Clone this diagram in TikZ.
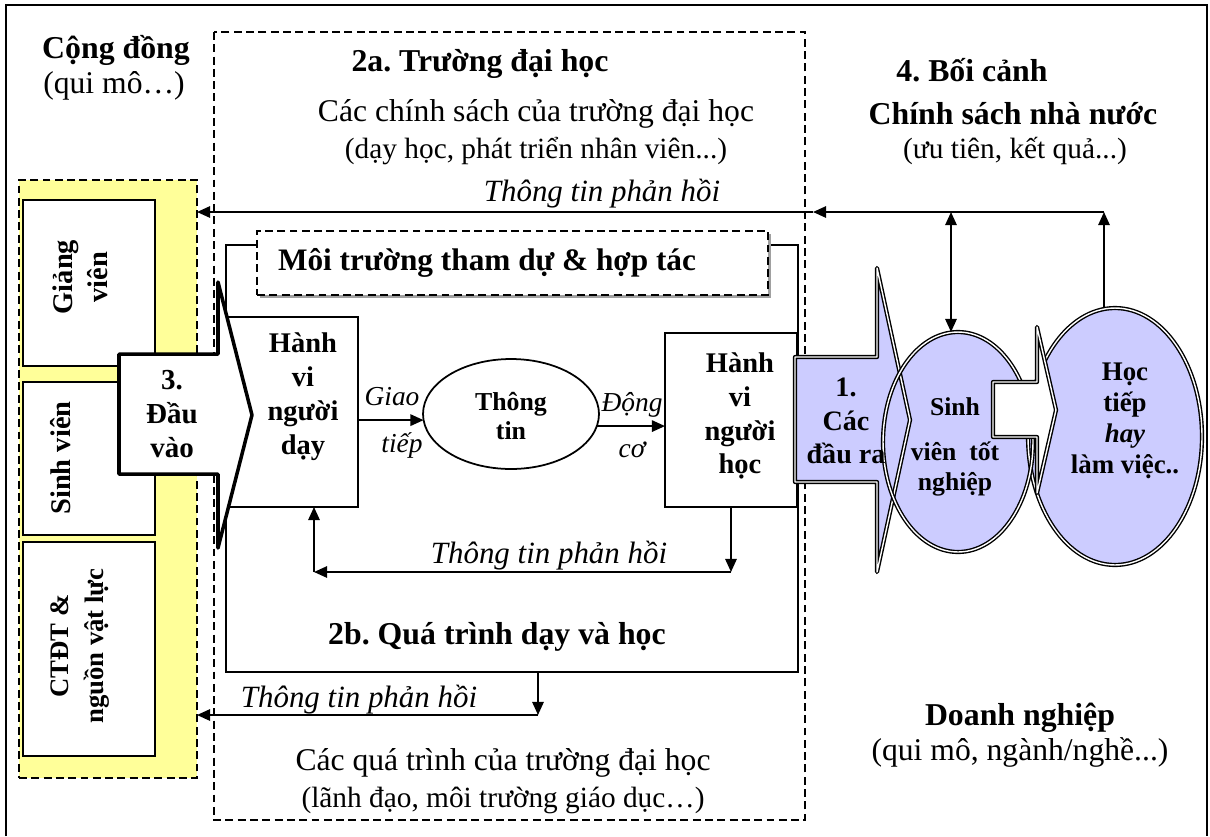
\documentclass[tikz,border=0pt]{standalone}
\usepackage{fontspec}
\setmainfont{Liberation Serif}
\usetikzlibrary{arrows.meta,shapes.geometric,calc}
\definecolor{padyellow}{HTML}{FFFF99}
\definecolor{outlav}{HTML}{CCCCFF}
\definecolor{shadowgrey}{HTML}{A0A0A0}
\frenchspacing
\begin{document}
\begin{tikzpicture}[x=0.02cm,y=-0.02cm,
  every node/.style={inner sep=0pt,outer sep=0pt},
  frameline/.style={line width=1.2pt},
  dashframe/.style={line width=0.8pt,dash pattern=on 4.5pt off 2.5pt},
  plainbox/.style={draw,line width=1pt,fill=white,rectangle},
  lavline/.style={draw=black,line width=0.8pt,double=white,double distance=0.8pt,line join=round},
  inarrowshape/.style={draw,fill=white,line width=2pt,line join=round},
  flow/.style={line width=1.1pt,-{Triangle[length=7.5pt,width=6.5pt]}},
  flowboth/.style={line width=1.1pt,{Triangle[length=7.5pt,width=6.5pt]}-{Triangle[length=7.5pt,width=6.5pt]}},
  titlef/.style={font=\fontsize{18.1}{21}\selectfont\bfseries},
  regf/.style={font=\fontsize{18}{21}\selectfont},
  parf/.style={font=\fontsize{16.7}{20}\selectfont},
  fbf/.style={font=\fontsize{17.6}{21}\selectfont\itshape},
  smallit/.style={font=\fontsize{15.6}{18}\selectfont\itshape},
  boxtext/.style={font=\fontsize{16.2}{19.3}\selectfont\bfseries,align=center},
  sidetext/.style={font=\fontsize{16.2}{19.8}\selectfont\bfseries,align=center},
  ovaltext/.style={font=\fontsize{14.7}{16}\selectfont\bfseries,align=center}]
\useasboundingbox (0,0) rectangle (1210,836);

% outer frame
\draw[frameline] (6,836) -- (6,5) -- (1207,5) -- (1207,836);

% university boundary (2a)
\draw[dashframe] (214,32) rectangle (805,820);

% community inputs
\node[dashframe,draw,fill=padyellow,minimum width=3.56cm,minimum height=11.96cm] (inputs) at (108,479) {};
\node[plainbox,minimum width=2.64cm,minimum height=3.32cm] (gv) at (89,283) {};
\node[plainbox,minimum width=2.64cm,minimum height=3.06cm] (svbox) at (89,458.5) {};
\node[plainbox,minimum width=2.64cm,minimum height=4.28cm] (ctdt) at (89,649) {};
\node[sidetext,rotate=90] (gvtext) at (80,277) {Giảng\\viên};
\node[sidetext,rotate=90] (svtext) at (61,458) {Sinh viên};
\node[sidetext,rotate=90,font=\fontsize{15.2}{20.4}\selectfont\bfseries] (ctdttext) at (80,646) {CTĐT \&\\nguồn vật lực};

% headings
\node[titlef] (cong) at (116,50) {Cộng đồng};
\node[regf] (congsub) at (114,86) {(qui mô…)};
\node[titlef] (uni) at (480,64) {2a. Trường đại học};
\node[regf] (unipol) at (536,114) {Các chính sách của trường đại học};
\node[parf] (unipolsub) at (536,151) {(dạy học, phát triển nhân viên...)};
\node[titlef] (ctx) at (972,70) {4. Bối cảnh};
\node[titlef] (gov) at (1013,114) {Chính sách nhà nước};
\node[parf] (govsub) at (1015,151) {(ưu tiên, kết quả...)};
\node[titlef] (biz) at (1020,718) {Doanh nghiệp};
\node[regf] (bizsub) at (1020,752) {(qui mô, ngành/nghề...)};
\node[regf] (uniproc) at (503,763) {Các quá trình của trường đại học};
\node[parf] (uniprocsub) at (503,800) {(lãnh đạo, môi trường giáo dục…)};

% teaching and learning process (2b)
\node[plainbox,minimum width=11.44cm,minimum height=8.54cm] (proc) at (512,458.5) {};
\node[titlef] (proclabel) at (497,637) {2b. Quá trình dạy và học};

% participation environment
\fill[shadowgrey] (260,234) rectangle (771,298);
\node[dashframe,draw,fill=white,minimum width=10.22cm,minimum height=1.28cm] (moi) at (512.5,263) {};
\node[font=\fontsize{17.8}{21}\selectfont\bfseries,anchor=west] (moitext) at ([xshift=0.42cm]moi.west) {Môi trường tham dự \& hợp tác};

% behaviours and information
\node[plainbox,minimum width=2.64cm,minimum height=3.8cm] (hvd) at (292,412) {};
\node[plainbox,minimum width=2.64cm,minimum height=3.48cm] (hvh) at (731,420) {};
\node[ellipse,draw,line width=1pt,fill=white,minimum width=3.52cm,minimum height=2.2cm] (tt) at (511,414) {};
\node[boxtext] (hvdtext) at (303,397) {Hành\\vi\\người\\dạy};
\node[boxtext] (hvhtext) at (740,416) {Hành\\vi\\người\\học};
\node[ovaltext] (tttext) at (511,416) {Thông\\tin};

% input arrow (3)
\draw[inarrowshape] (119,354) -- (218,354) -- (218,282) -- (252,415) -- (218,548)
  -- (218,474) -- (119,474) -- cycle;
\node[boxtext,font=\fontsize{16.5}{19.3}\selectfont\bfseries] (inlabel) at (172,414) {3.\\Đầu\\vào};

% communication and motivation
\draw[flow] (hvd.east |- tt.184) -- (tt.184);
\draw[flow] (tt.-8) -- (tt.-8 -| hvh.west);
\node[smallit] (giao) at (392,397) {Giao};
\node[smallit] (tiep) at (402,445) {tiếp};
\node[smallit] (dong) at (632,405) {Động};
\node[smallit] (co) at (632,450) {cơ};

% inner feedback loop
\coordinate (fbR) at (731,572);
\coordinate (fbL) at (314,572);
\draw[flow] (hvh.south) -- (fbR);
\draw[flow] (fbR) -- (fbL);
\draw[flow] (fbL) -- (fbL |- hvd.south);
\node[fbf] (fbinner) at (549,556) {Thông tin phản hồi};

% feedback from the process to the inputs
\coordinate (fbB) at (538,715);
\draw[flow] (fbB |- proc.south) -- (fbB);
\draw[flow] (fbB) -- (fbB -| inputs.east);
\node[fbf] (fbbottom) at (359,700) {Thông tin phản hồi};

% graduates and destinations
\node[ellipse,fill=outlav,minimum width=3.0cm,minimum height=4.4cm] (sv) at (958,442) {};
\node[ellipse,fill=outlav,minimum width=3.48cm,minimum height=5.14cm] (hoc) at (1115,436.5) {};
\draw[lavline] (hoc.center) ellipse [x radius=1.74cm,y radius=2.57cm];

% outputs arrow (1)
\draw[lavline,fill=outlav] (795,357) -- (877,357) -- (877,268) -- (910,420) -- (877,572)
  -- (877,482) -- (795,482) -- cycle;
\draw[lavline] (sv.center) ellipse [x radius=1.5cm,y radius=2.2cm];
\node[boxtext,font=\fontsize{16}{19}\selectfont\bfseries] (outlabel) at (846,421) {1.\\Các\\đầu ra};

% transition arrow between the ovals
\draw[lavline,fill=white] (993,382) -- (1037,382) -- (1037,327) -- (1056,410) -- (1037,493)
  -- (1037,437) -- (993,437) -- cycle;

\node[ovaltext,font=\fontsize{14.6}{17}\selectfont\bfseries] (svtext2) at (955,447) {Sinh\\[9pt]viên\ \ tốt\\nghiệp};
\node[ovaltext,font=\fontsize{15.3}{17.6}\selectfont\bfseries] (hoctext) at (1125,421) {Học\\tiếp\\{\itshape hay}\\làm việc..};

% feedback from the context
\coordinate (fbT) at (1104,212);
\coordinate (fbM) at (813,212);
\coordinate (fbS) at (951,212);
\draw[flow] (hoc.north -| fbT) -- (fbT);
\draw[flow] (fbT) -- (fbM);
\draw[flow] (fbM) -- (fbM -| inputs.east);
\draw[flowboth] (fbS) -- (fbS |- sv.north);
\node[fbf] (fbtop) at (602,194) {Thông tin phản hồi};
\end{tikzpicture}
\end{document}
